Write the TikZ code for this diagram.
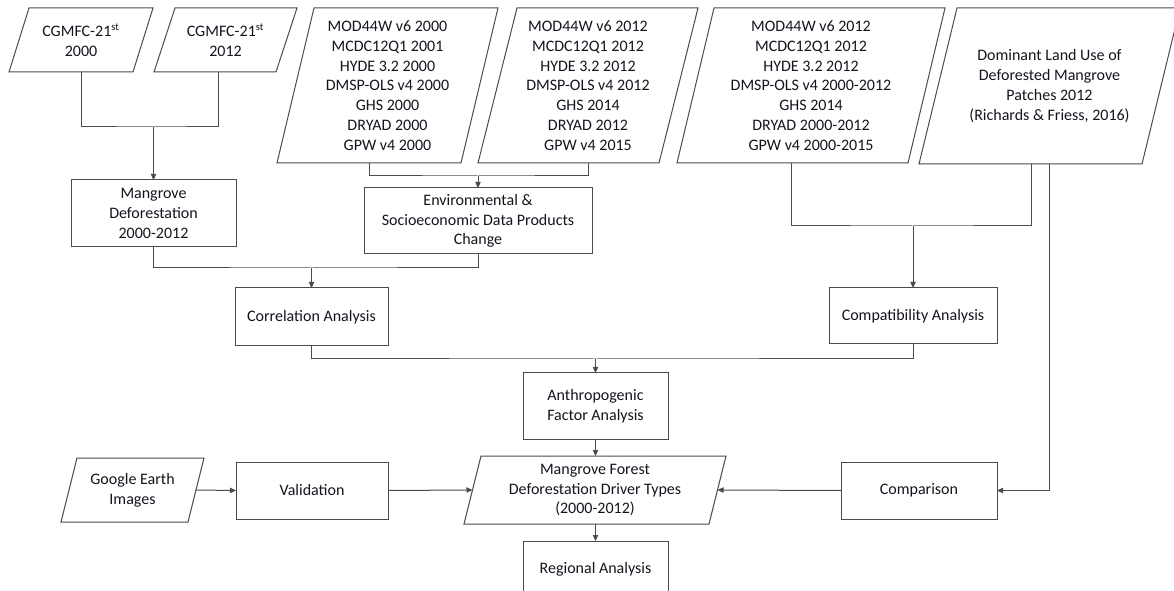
\documentclass[tikz,border=0pt]{standalone}
\usepackage{fontspec}
\setmainfont{Carlito}
\usetikzlibrary{arrows.meta,calc}
\definecolor{linec}{RGB}{75,75,75}
\definecolor{txt}{RGB}{20,20,30}
\newcommand\slantdraw[2]{\draw[pline] (#1.south west) -- ($(#1.north west)+(#2,0)$) -- (#1.north east) -- ($(#1.south east)+(-#2,0)$) -- cycle;}
\begin{document}
\begin{tikzpicture}[x=0.75pt,y=-0.75pt,
  every node/.style={font=\fontsize{12}{14.8}\selectfont, text=txt, align=center},
  pline/.style={draw=linec, line width=0.75pt, line join=miter},
  box/.style={pline, rectangle, inner sep=0pt, outer sep=0pt},
  ptext/.style={rectangle, inner sep=0pt, outer sep=0pt},
  conn/.style={draw=linec, line width=0.75pt},
  arr/.style={conn, -{Triangle[length=4.5pt,width=4pt]}}]
\useasboundingbox (0,0) rectangle (1174,591);
\clip (0,0) rectangle (1174,591);

% input parallelograms (text nodes, outlines drawn below)
\node[ptext, minimum width=108pt, minimum height=48pt] (p1) at (81,40)
  {CGMFC-21\textsuperscript{st}\\2000};
\node[ptext, minimum width=107.25pt, minimum height=48pt] (p2) at (225.5,40)
  {CGMFC-21\textsuperscript{st}\\2012};
\node[ptext, minimum width=165.75pt, minimum height=116.25pt] (p3) at (387.5,85.5)
  {MOD44W v6 2000\\MCDC12Q1 2001\\HYDE 3.2 2000\\DMSP-OLS v4 2000\\GHS 2000\\DRYAD 2000\\GPW v4 2000};
\node[ptext, minimum width=165pt, minimum height=116.25pt] (p4) at (588,85.5)
  {MOD44W v6 2012\\MCDC12Q1 2012\\HYDE 3.2 2012\\DMSP-OLS v4 2012\\GHS 2014\\DRYAD 2012\\GPW v4 2015};
\node[ptext, minimum width=201pt, minimum height=116.25pt] (p5) at (811,85.5)
  {MOD44W v6 2012\\MCDC12Q1 2012\\HYDE 3.2 2012\\DMSP-OLS v4 2000-2012\\GHS 2014\\DRYAD 2000-2012\\GPW v4 2000-2015};
\node[ptext, minimum width=195.75pt, minimum height=117pt] (p6) at (1049.5,86)
  {Dominant Land Use of\\Deforested Mangrove\\Patches 2012\\(Richards \& Friess, 2016)};
\node[ptext, minimum width=107.25pt, minimum height=48pt] (ge) at (132.5,490)
  {Google Earth\\Images};
\node[ptext, minimum width=196.5pt, minimum height=51pt] (mf) at (595,490)
  {Mangrove Forest\\Deforestation Driver Types\\(2000-2012)};
\slantdraw{p1}{20}
\slantdraw{p2}{21}
\slantdraw{p3}{37}
\slantdraw{p4}{39}
\slantdraw{p5}{37}
\slantdraw{p6}{38}
\slantdraw{ge}{16}
\slantdraw{mf}{17}

% process boxes
\node[box, minimum width=123.75pt, minimum height=50.25pt] (md) at (153.5,213.5)
  {Mangrove\\Deforestation\\2000-2012};
\node[box, minimum width=171pt, minimum height=49.5pt] (env) at (478,221)
  {Environmental \&\\Socioeconomic Data Products\\Change};
\node[box, minimum width=114.75pt, minimum height=43.5pt] (corr) at (311.5,317)
  {Correlation Analysis};
\node[box, minimum width=126pt, minimum height=42pt] (compat) at (913,316)
  {Compatibility Analysis};
\node[box, minimum width=108.75pt, minimum height=49.5pt] (anth) at (595.5,406)
  {Anthropogenic\\Factor Analysis};
\node[box, minimum width=114pt, minimum height=42.75pt] (valid) at (312,490.5)
  {Validation};
\node[box, minimum width=117pt, minimum height=42.75pt] (comp) at (919,490.5)
  {Comparison};
\node[box, minimum width=108.75pt, minimum height=42.75pt] (reg) at (595.5,569.5)
  {Regional Analysis};

% connectors
\coordinate (j1) at (153.5,127);
\draw[conn] (p1.south) |- (j1) -| ($(p2.south)+(-7.5,0)$);
\draw[arr] (j1) -- (md.north);
\coordinate (j2) at (478,176);
\draw[conn] ($(p3.south)+(-18.5,0)$) |- (j2) -| (p4.south);
\draw[arr] (j2) -- (env.north);
\coordinate (j3) at (311.5,268);
\draw[conn] (md.south) |- (j3) -| (env.south);
\draw[arr] (j3) -- (corr.north);
\coordinate (j4) at (595.5,359);
\draw[conn] (corr.south) |- (j4) -| (compat.south);
\draw[arr] (j4) -- (anth.north);
\coordinate (j5) at (913,226);
\draw[conn] ($(p5.south)+(-20,0)$) |- (j5) -| ($(p6.south)+(-18.5,0)$);
\draw[arr] (j5) -- (compat.north);
\draw[arr] (p6.south) |- (comp.east);
\draw[arr] (anth.south) -- (anth.south |- mf.north);
\draw[arr] (reg.north |- mf.south) -- (reg.north);
\draw[arr] ($(ge.east)+(-8,0)$) -- (valid.west);
\draw[arr] (valid.east) -- ($(mf.west)+(8.5,0)$);
\draw[arr] (comp.west) -- ($(mf.east)+(-8.5,0)$);
\end{tikzpicture}
\end{document}
